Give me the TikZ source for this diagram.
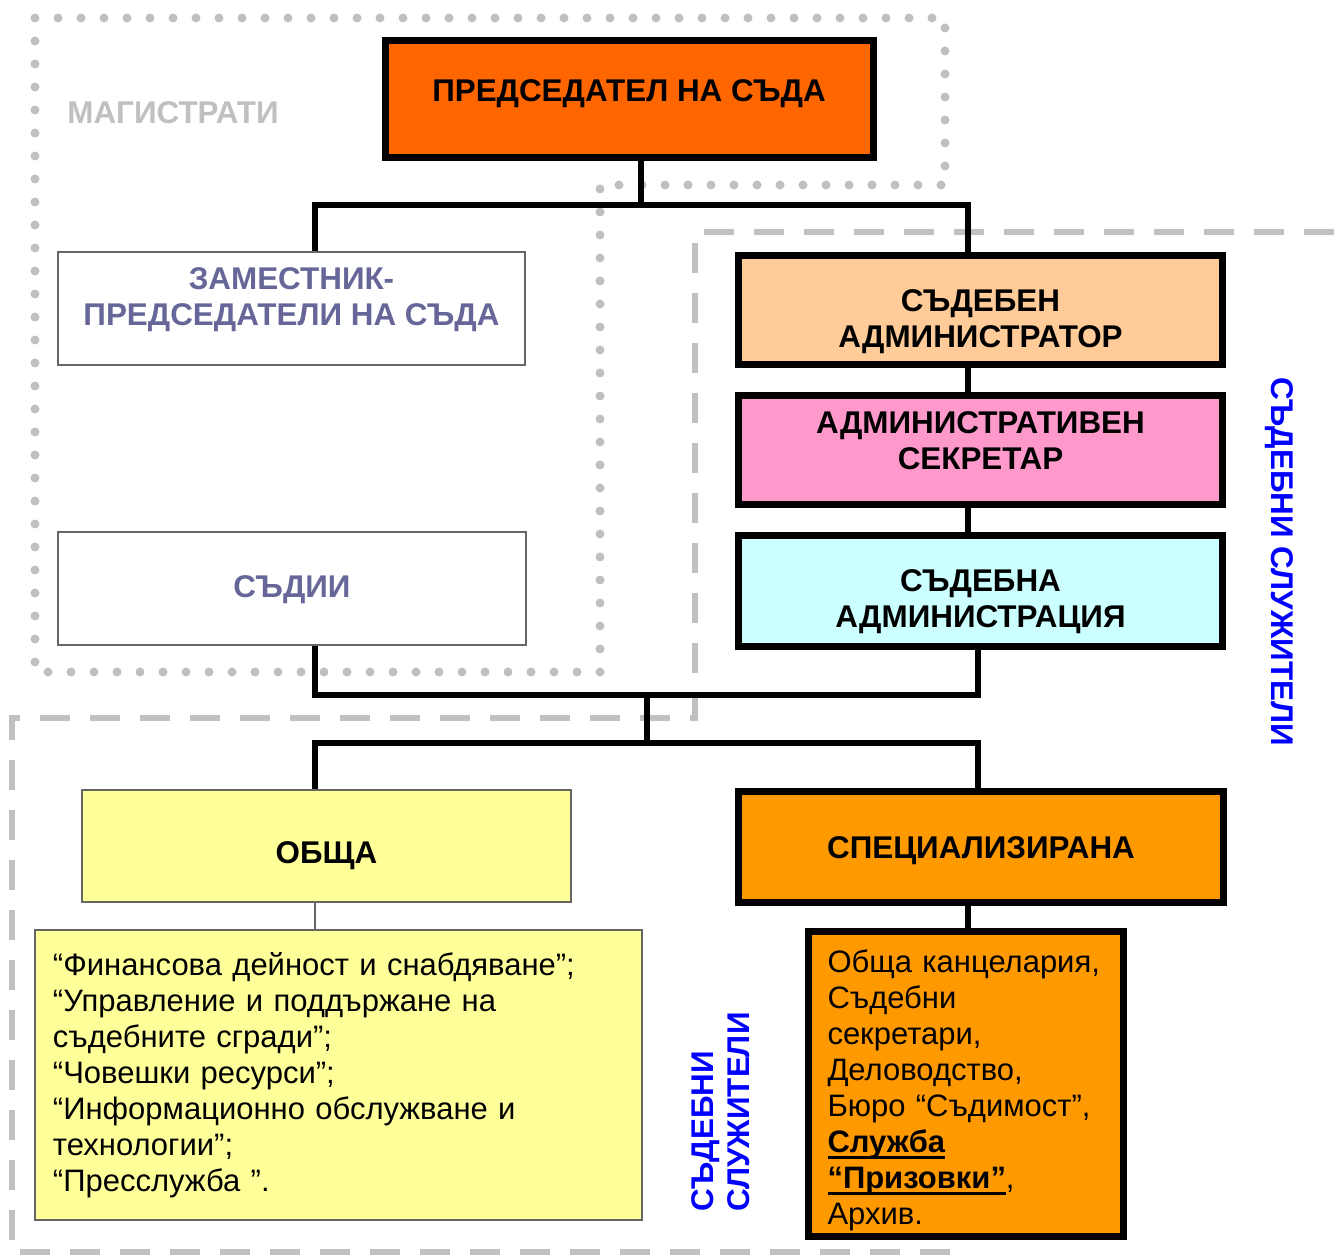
\documentclass[tikz,border=0pt]{standalone}
\usepackage{fontspec}
\setmainfont{Liberation Sans}
\newsavebox{\ulbox}
\newcommand{\barunder}[1]{\leavevmode\sbox{\ulbox}{#1}\rlap{\rule[-3.4pt]{\wd\ulbox}{1.4pt}}\usebox{\ulbox}}
\definecolor{chairorange}{HTML}{FF6600}
\definecolor{adminpeach}{HTML}{FFCC99}
\definecolor{secretarypink}{HTML}{FF99CC}
\definecolor{officecyan}{HTML}{CCFFFF}
\definecolor{paleyellow}{HTML}{FFFF99}
\definecolor{deeporange}{HTML}{FF9900}
\definecolor{framegray}{HTML}{C0C0C0}
\definecolor{slateblue}{HTML}{666699}
\definecolor{staffblue}{HTML}{0000FF}
\tikzset{
  boxtext/.style={font=\fontsize{15.7}{18}\selectfont\bfseries,align=center,text height=11.25pt,text depth=0pt,inner sep=0pt},
  twolines/.style={text height=29.25pt},
  thickbox/.style={draw=black,line width=3.5pt,inner sep=0pt},
  thinbox/.style={draw=black!60,line width=0.6pt,inner sep=0pt},
  listtext/.style={font=\fontsize{15.5}{18}\selectfont,align=left},
  link/.style={line width=2.75pt,black},
  dotframe/.style={framegray,line width=4.5pt,line cap=round,dash pattern=on 0pt off 11.5pt},
  dashframe/.style={framegray,line width=3.25pt,dash pattern=on 15pt off 10pt},
}
\begin{document}
\begin{tikzpicture}[x=0.5pt,y=-0.5pt]
\useasboundingbox (0,0) rectangle (1334,1256);
% frames
\draw[dotframe] (35,18) -- (945,18) -- (945,185) -- (600,185) -- (600,672) -- (35,672) -- cycle;
\draw[dashframe] (1334,232) -- (695,232) -- (695,718) -- (12,718) -- (12,1252) -- (950,1252);
\node[boxtext,anchor=west,text=framegray] (magistrates) at (67,112) {МАГИСТРАТИ};
% magistrates
\node[thickbox,fill=chairorange,minimum width=244pt,minimum height=58.5pt,
  label={[boxtext,yshift=4.75pt]center:ПРЕДСЕДАТЕЛ НА СЪДА}] (chair) at (629,99.5) {};
\node[thinbox,fill=white,minimum width=233.5pt,minimum height=56.5pt,
  label={[boxtext,twolines,text=slateblue,yshift=6.25pt]center:ЗАМЕСТНИК-\\ПРЕДСЕДАТЕЛИ НА СЪДА}] (deputy) at (291.5,308.5) {};
\node[thinbox,fill=white,minimum width=234pt,minimum height=56.5pt,
  label={[boxtext,text=slateblue,yshift=1.25pt]center:СЪДИИ}] (judges) at (292,588.5) {};
% court officials
\node[thickbox,fill=adminpeach,minimum width=242pt,minimum height=54.5pt,
  label={[boxtext,twolines,yshift=-4pt]center:СЪДЕБЕН\\АДМИНИСТРАТОР}] (admin) at (980.5,310) {};
\node[thickbox,fill=secretarypink,minimum width=242pt,minimum height=54.5pt,
  label={[boxtext,twolines,yshift=5pt]center:АДМИНИСТРАТИВЕН\\СЕКРЕТАР}] (secretary) at (980.5,450) {};
\node[thickbox,fill=officecyan,minimum width=242pt,minimum height=55.5pt,
  label={[boxtext,twolines,yshift=-3.5pt]center:СЪДЕБНА\\АДМИНИСТРАЦИЯ}] (administration) at (980.5,591) {};
\node[thinbox,fill=paleyellow,minimum width=244.5pt,minimum height=56pt,
  label={[boxtext,yshift=-3pt]center:ОБЩА}] (general) at (326.5,846) {};
\node[thickbox,fill=deeporange,minimum width=242.5pt,minimum height=55.5pt,
  label={[boxtext]center:СПЕЦИАЛИЗИРАНА}] (special) at (981,847) {};
\node[thinbox,fill=paleyellow,minimum width=303.5pt,minimum height=145pt,listtext,
  text width=285.5pt,inner xsep=9pt] (glist) at (338.5,1075)
  {“Финансова дейност и снабдяване”;\\“Управление и поддържане на\\съдебните сгради”;\\“Човешки ресурси”;\\“Информационно обслужване и\\технологии”;\\“Пресслужба ”.};
\node[thickbox,fill=deeporange,minimum width=157.5pt,minimum height=152.5pt,listtext,
  text width=138.5pt,inner xsep=9.5pt] (olist) at (966,1084)
  {\rule{0pt}{17.5pt}Обща канцелария,\\Съдебни\\секретари,\\Деловодство,\\Бюро “Съдимост”,\\\barunder{\textbf{Служба}}\\\barunder{\textbf{“Призовки”}},\\Архив.};
\node[boxtext,text=staffblue,rotate=-90] (staffright) at (1283,561.5) {СЪДЕБНИ СЛУЖИТЕЛИ};
\node[boxtext,twolines,text=staffblue,rotate=90,anchor=west,align=left] (staffleft) at (720.5,1212) {СЪДЕБНИ\\СЛУЖИТЕЛИ};
% connectors
\coordinate (bus1) at (641,205);
\coordinate (bus2) at (647,695);
\coordinate (bus3) at (647,743);
\coordinate (gtap) at ([xshift=-5.75pt]general.south);
\coordinate (stap) at ([xshift=-6.5pt]special.south);
\draw[link] (chair.south -| bus1) -- (bus1);
\draw[link] ([xshift=11.75pt]deputy.north) |- (bus1) -| ([xshift=-6.25pt]admin.north);
\draw[link] ([xshift=-6.25pt]admin.south) -- ([xshift=-6.25pt]secretary.north);
\draw[link] ([xshift=-6.25pt]secretary.south) -- ([xshift=-6.25pt]administration.north);
\draw[link] ([xshift=11.5pt]judges.south) |- (bus2) -| ([xshift=-1.25pt]administration.south);
\draw[link] (bus2) -- (bus3);
\draw[link] ([xshift=-5.75pt]general.north) |- (bus3) -| ([xshift=-1.5pt]special.north);
\draw[black!60,line width=0.6pt] (gtap) -- (gtap |- glist.north);
\draw[link] (stap) -- (stap |- olist.north);
\end{tikzpicture}
\end{document}
